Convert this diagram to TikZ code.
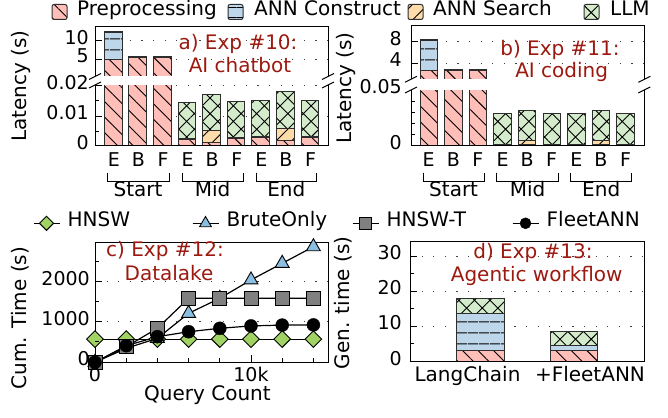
\documentclass[tikz,border=0pt]{standalone}
\usepackage{fontspec}
\setmainfont{DejaVu Sans}
\usetikzlibrary{patterns.meta,shapes.geometric}

\definecolor{prefill}{RGB}{255,190,184}
\definecolor{consfill}{RGB}{190,214,234}
\definecolor{srchfill}{RGB}{253,220,170}
\definecolor{llmfill}{RGB}{212,236,204}
\definecolor{barline}{RGB}{45,45,45}
\definecolor{expred}{RGB}{155,25,15}
\definecolor{hnswgreen}{RGB}{160,210,100}
\definecolor{bruteblue}{RGB}{140,190,225}

\pgfdeclarelayer{bg}
\pgfsetlayers{bg,main}

\tikzset{
  txt/.style={font=\fontsize{19}{23}\selectfont,inner sep=0pt,text height=.73em,text depth=0pt},
  big/.style={txt,font=\fontsize{20}{24}\selectfont},
  exp/.style={big,text=expred},
  axis/.style={line width=1pt},
  grid/.style={line width=1pt,draw=black!75,dash pattern=on 1.2pt off 10.4pt},
  pre/.style={preaction={fill=prefill},preaction={pattern color=black,pattern={Lines[angle=-45,distance=11pt,line width=.9pt]}},draw=barline,line width=1pt},
  cons/.style={preaction={fill=consfill},preaction={pattern color=black,pattern={Lines[angle=0,distance=10.5pt,line width=1pt]}},draw=barline,line width=1pt},
  srch/.style={preaction={fill=srchfill},preaction={pattern color=black,pattern={Lines[angle=45,distance=11pt,line width=.9pt]}},draw=barline,line width=1pt},
  llm/.style={preaction={fill=llmfill},preaction={pattern color=black,pattern={Hatch[angle=45,distance=11pt,line width=.9pt]}},draw=barline,line width=1pt},
  dataline/.style={line width=1.2pt},
  hnswmk/.style={diamond,draw,fill=hnswgreen,line width=.9pt,minimum size=17pt,inner sep=0pt},
  brutemk/.style={regular polygon,regular polygon sides=3,draw,fill=bruteblue,line width=.9pt,minimum size=16pt,inner sep=0pt},
  hnswtmk/.style={rectangle,draw,fill=black!50,line width=.9pt,minimum size=14pt,inner sep=0pt},
  fleetmk/.style={circle,draw,fill=black,minimum size=13pt,inner sep=0pt}
}

\begin{document}
\begin{tikzpicture}[x=1pt,y=-1pt]
\useasboundingbox (0,0) rectangle (668,417);

% legend, top row
\draw[pre,rounded corners=2pt]  (52,4.5) rectangle (67,19.5);
\draw[cons,rounded corners=2pt] (228,4.5) rectangle (243,19.5);
\draw[srch,rounded corners=2pt] (408,4.5) rectangle (423,19.5);
\draw[llm,rounded corners=2pt]  (584,4.5) rectangle (599,19.5);
\node[big,anchor=west] (lg-pre)  at (77,12)  {Preprocessing};
\node[big,anchor=west] (lg-cons) at (254,12) {ANN Construct};
\node[big,anchor=west] (lg-srch) at (433,12) {ANN Search};
\node[big,anchor=west] (lg-llm)  at (610,12) {LLM};

% a) chatbot
\foreach \y in {41,59.3,86,116} \draw[grid] (95,\y) -- (328,\y);
\draw[pre]  (104.5,145.7) rectangle (122,59.3);
\draw[cons] (104.5,59.3) rectangle (122,32.3);
\draw[srch] (104.5,32.3) rectangle (122,31.3);
\foreach \x in {128.9,153.5} {
  \draw[pre]  (\x,145.7) rectangle (\x+17.5,57.3);
  \draw[srch] (\x,57.3) rectangle (\x+17.5,56.3);
}
\foreach \x/\p/\s/\l in {178.1/139.3/138.8/102.3, 202.7/142.7/130/94.3, 227.3/138.3/137.8/101.3,
                         251.9/137.3/136.8/100.7, 276.5/140/128.3/92, 301.1/137.3/136.8/100.7} {
  \draw[pre]  (\x,145.7) rectangle (\x+17.5,\p);
  \draw[srch] (\x,\p) rectangle (\x+17.5,\s);
  \draw[llm]  (\x,\s) rectangle (\x+17.5,\l);
}
\draw[axis] (95,27) rectangle (328,145.7);
\foreach \y in {41,59.3,86,116,145.7} \draw[axis] (95,\y) -- ++(7,0);
\foreach \y in {101,131} \draw[axis] (95,\y) -- ++(4,0);
\fill[white] (92,76.5) rectangle (331,85);
\foreach \x in {95,328} \draw[axis] (\x-6,79.5) -- (\x+6,73.5) (\x-6,88) -- (\x+6,82);
\node[txt,anchor=east] (a-t10)  at (89,41)    {10};
\node[txt,anchor=east] (a-t5)   at (89,59.3)  {5};
\node[txt,anchor=east] (a-t002) at (89,86)    {0.02};
\node[txt,anchor=east] (a-t001) at (89,116)   {0.01};
\node[txt,anchor=east] (a-t0)   at (89,145.7) {0};
\node[big,rotate=90] (a-ylab) at (22.5,86) {Latency (s)};
\node[exp] (a-exp)  at (238,46) {a) Exp \#10:};
\node[exp] (a-name) at (240,69) {AI chatbot};
\foreach \x/\t [count=\i] in {113.8/E,138.4/B,163/F,187.6/E,212.2/B,236.8/F,261.4/E,286/B,310.6/F}
  \node[txt] (a-x\i) at (\x,162.5) {\t};
\foreach \l/\r/\g in {107/169/Start,182/243.3/Mid,256/316.7/End} {
  \draw[axis] (\l,172.7) |- (\r,181.7) -- (\r,172.7);
  \node[big] (a-\g) at ({(\l+\r)/2},193) {\g};
}

% b) coding
\foreach \y in {41.7,63.3} \draw[grid] (411,\y) -- (644.3,\y);
\draw[pre]  (420,145.7) rectangle (437.5,71);
\draw[cons] (420,71) rectangle (437.5,40.7);
\draw[srch] (420,40.7) rectangle (437.5,39.7);
\foreach \x in {444.6,469.2} {
  \draw[pre]  (\x,145.7) rectangle (\x+17.5,70.7);
  \draw[srch] (\x,70.7) rectangle (\x+17.5,69.7);
}
\foreach \x/\p/\s/\l in {493.8/145.2/144.7/113.7, 518.4/144.5/140/110, 543/145.2/144.7/113.7,
                         567.6/145.2/144.7/113.7, 592.2/144.5/140/110, 616.8/145.2/144.7/113.7} {
  \draw[pre]  (\x,145.7) rectangle (\x+17.5,\p);
  \draw[srch] (\x,\p) rectangle (\x+17.5,\s);
  \draw[llm]  (\x,\s) rectangle (\x+17.5,\l);
}
\draw[axis] (411,25.7) rectangle (644.3,145.7);
\foreach \y in {41.7,63.3,90,145.7} \draw[axis] (411,\y) -- ++(7,0);
\foreach \y in {101.1,112.3,123.4,134.6} \draw[axis] (411,\y) -- ++(4,0);
\fill[white] (408,79.3) rectangle (647,90);
\foreach \x in {411,644.3} \draw[axis] (\x-6,82.3) -- (\x+6,76.3) (\x-6,93) -- (\x+6,87);
\node[txt,anchor=east] (b-t8)   at (402,41.7)  {8};
\node[txt,anchor=east] (b-t4)   at (402,63.3)  {4};
\node[txt,anchor=east] (b-t005) at (402,89.5)  {0.05};
\node[txt,anchor=east] (b-t0)   at (402,145.7) {0};
\node[big,rotate=90] (b-ylab) at (347.5,88) {Latency (s)};
\node[exp] (b-exp)  at (560,51.7) {b) Exp \#11:};
\node[exp] (b-name) at (561.7,74) {AI coding};
\foreach \x/\t [count=\i] in {428.7/E,453.3/B,477.9/F,502.5/E,527.1/B,551.7/F,576.3/E,600.9/B,625.5/F}
  \node[txt] (b-x\i) at (\x,162.5) {\t};
\foreach \l/\r/\g in {423.3/484/Start,496.7/558.3/Mid,570.7/631.7/End} {
  \draw[axis] (\l,172.7) |- (\r,181.7) -- (\r,172.7);
  \node[big] (b-\g) at ({(\l+\r)/2},193) {\g};
}

% legend, second row
\foreach \mk/\x/\t [count=\i] in {hnswmk/46.5/HNSW,brutemk/205.5/BruteOnly,hnswtmk/365.5/HNSW-T,fleetmk/525.5/FleetANN} {
  \coordinate (lk\i-l) at (\x-13,223.3);
  \coordinate (lk\i-r) at (\x+13,223.3);
  \draw[dataline] (lk\i-l) -- (lk\i-r);
  \node[\mk,scale=.85] (lk\i) at (\x,223.3) {};
  \node[big,anchor=west] (lt\i) at (\x+21,223.3) {\t};
}

% c) datalake
\node[exp] (c-exp)  at (165,253.3) {c) Exp \#12:};
\node[exp] (c-name) at (169,276.7) {Datalake};
\foreach \v [count=\i from 0] in {580,580,580,580,580,580,580,580}
  \node[hnswmk] (h\i) at (95+31.2*\i,362.3-0.04*\v) {};
\foreach \v [count=\i from 0] in {0,350,600,1225,1600,2060,2475,2890}
  \node[brutemk] (bo\i) at (95+31.2*\i,362.3-0.04*\v) {};
\foreach \v [count=\i from 0] in {0,390,850,1600,1600,1600,1600,1600}
  \node[hnswtmk] (ht\i) at (95+31.2*\i,362.3-0.04*\v) {};
\foreach \v [count=\i from 0] in {0,415,640,765,850,910,930,935}
  \node[fleetmk] (fa\i) at (95+31.2*\i,362.3-0.04*\v) {};
\begin{pgfonlayer}{bg}
  \foreach \y in {281.7,321.7} \draw[grid] (95,\y) -- (328,\y);
  \draw[axis] (95,242.3) rectangle (328,362.3);
  \foreach \s in {h,bo,ht,fa}
    \draw[dataline] (\s0.center) \foreach \i in {1,...,7} {-- (\s\i.center)};
\end{pgfonlayer}
\foreach \y in {281.7,321.7} \draw[axis] (95,\y) -- ++(7,0);
\foreach \y in {261.7,301.7,341.7} \draw[axis] (95,\y) -- ++(4,0);
\draw[axis] (251,362.3) -- ++(0,-7);
\foreach \x in {126.2,157.4,188.6,219.8,282.2,313.4} \draw[axis] (\x,362.3) -- ++(0,-4);
\node[txt,anchor=east] (c-t2000) at (90,281.7) {2000};
\node[txt,anchor=east] (c-t1000) at (90,321.7) {1000};
\node[txt,anchor=east] (c-t0)    at (90,362.3) {0};
\node[txt] (c-x0)   at (95,378)  {0};
\node[txt] (c-x10k) at (251,378) {10k};
\node[big] (c-xlab) at (207.5,397) {Query Count};
\node[big,rotate=90] (c-ylab) at (22.5,318) {Cum. Time (s)};

% d) agentic workflow
\foreach \y in {256,291,326} \draw[grid] (410,\y) -- (644.3,\y);
\draw[pre]  (456.7,361.7) rectangle (504.3,350.3);
\draw[cons] (456.7,350.3) rectangle (504.3,313.3);
\draw[llm]  (456.7,313.3) rectangle (504.3,298.7);
\draw[pre]  (550.5,361.7) rectangle (597.9,350.3);
\draw[cons] (550.5,350.3) rectangle (597.9,345.7);
\draw[llm]  (550.5,345.7) rectangle (597.9,331.7);
\draw[axis] (410,241.7) rectangle (644.3,361.7);
\foreach \y in {256,291,326} \draw[axis] (410,\y) -- ++(7,0);
\foreach \y in {273.5,308.5,343.9} \draw[axis] (410,\y) -- ++(4,0);
\node[txt,anchor=east] (d-t30) at (402,256)   {30};
\node[txt,anchor=east] (d-t20) at (402,291)   {20};
\node[txt,anchor=east] (d-t10) at (402,326)   {10};
\node[txt,anchor=east] (d-t0)  at (402,361.7) {0};
\node[big,rotate=90] (d-ylab) at (345.8,303) {Gen. time (s)};
\node[exp] (d-exp)  at (533,255)   {d) Exp \#13:};
\node[exp] (d-name) at (536.7,278.3) {Agentic workflow};
\node[big] (d-lc) at (467.5,378.3) {LangChain};
\node[big] (d-fa) at (590,378.3)   {+FleetANN};
\end{tikzpicture}
\end{document}
